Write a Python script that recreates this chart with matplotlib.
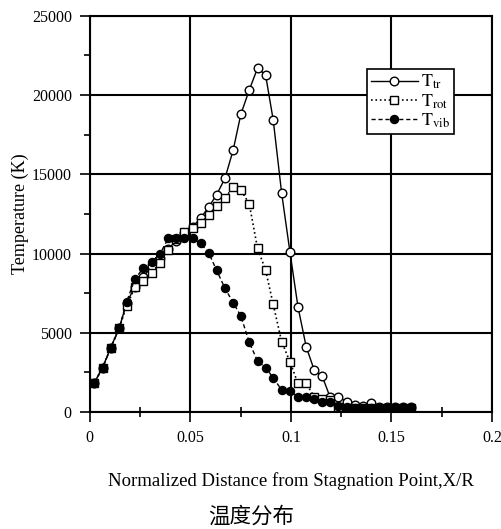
import numpy as np
import matplotlib
matplotlib.use("Agg")
import matplotlib.pyplot as plt
from matplotlib.ticker import MultipleLocator

plt.rcParams['font.family'] = ['Liberation Serif', 'Noto Sans CJK SC']
plt.rcParams['mathtext.fontset'] = 'stix'

# distance normalisee X/R
x = [0.002, 0.0063, 0.0103, 0.0146, 0.0183, 0.0224, 0.0265, 0.0307, 0.0348, 0.0390,
     0.0428, 0.0469, 0.0511, 0.0551, 0.0592, 0.0630, 0.0672, 0.0713, 0.0751, 0.0793,
     0.0834, 0.0874, 0.0912, 0.0954, 0.0995, 0.1035, 0.1076, 0.1116, 0.1155, 0.1194,
     0.1235, 0.1277, 0.1318, 0.1358, 0.1398, 0.1438, 0.1478, 0.1518, 0.1558, 0.1598]

# temperatures (K)
t_tr = [1810, 2800, 4050, 5300, 6900, 7900, 8500, 9200, 9700, 10300,
        10800, 11300, 11700, 12230, 12960, 13700, 14750, 16540, 18790, 20330,
        21700, 21275, 18430, 13810, 10120, 6650, 4120, 2650, 2290, 970,
        970, 650, 450, 400, 550, 350, 300, 300, 300, 300]
t_rot = [1810, 2800, 4050, 5300, 6690, 7870, 8270, 8800, 9390, 10230,
         10900, 11380, 11600, 11950, 12440, 13000, 13490, 14220, 14020, 13130,
         10330, 8960, 6800, 4440, 3180, 1810, 1810, 970, 820, 760,
         340, 250, 250, 250, 250, 250, 250, 250, 250, 250]
t_vib = [1810, 2760, 4020, 5280, 6960, 8400, 9070, 9490, 9970, 10960,
         10960, 10960, 10960, 10650, 10020, 8960, 7810, 6900, 6060, 4400,
         3220, 2800, 2170, 1390, 1330, 970, 930, 800, 650, 650,
         400, 300, 250, 250, 250, 250, 250, 250, 250, 250]

xticks = [0, 0.05, 0.1, 0.15, 0.2]
xticklabels = ['0', '0.05', '0.1', '0.15', '0.2']

fig = plt.figure(figsize=(5.02, 5.29), dpi=100)
ax = fig.add_axes([0.179, 0.221, 0.801, 0.749])

ax.plot(x, t_tr, '-', color='black', lw=1, marker='o', ms=6.2,
        mfc='white', mec='black', mew=1, label=r'$\mathrm{T}_{\mathrm{tr}}$')
ax.plot(x, t_rot, ':', color='black', lw=1.2, marker='s', ms=5.8,
        mfc='white', mec='black', mew=1, label=r'$\mathrm{T}_{\mathrm{rot}}$')
ax.plot(x, t_vib, '--', color='black', lw=1, dashes=(3, 2), marker='o', ms=5.8,
        mfc='black', mec='black', label=r'$\mathrm{T}_{\mathrm{vib}}$')

ax.set_xlim(0, 0.2)
ax.set_ylim(0, 25000)
ax.set_xticks(xticks)
ax.set_xticklabels(xticklabels)
ax.xaxis.set_minor_locator(MultipleLocator(0.025))
ax.yaxis.set_major_locator(MultipleLocator(5000))
ax.yaxis.set_minor_locator(MultipleLocator(2500))
ax.tick_params(axis='both', which='major', direction='out', length=7, width=1.2,
               labelsize=11.5, pad=6)
ax.tick_params(axis='x', which='minor', direction='inout', length=7, width=1.2)
ax.tick_params(axis='y', which='minor', direction='out', length=4, width=1.2)
ax.grid(True, which='major', color='black', lw=1.5)
for s in ax.spines.values():
    s.set_linewidth(1.5)

ax.set_ylabel('Temperature (K)', fontsize=13, labelpad=2)
ax.set_xlabel('Normalized Distance from Stagnation Point,X/R', fontsize=13.5, labelpad=19)
fig.text(0.5, 0.012, '温度分布', ha='center', fontsize=15.5, family='Noto Sans CJK SC')

leg = ax.legend(loc='upper left', bbox_to_anchor=(0.69, 0.865), fontsize=13,
                frameon=True, fancybox=False, edgecolor='black', framealpha=1,
                handlelength=2.6, borderpad=0.2, labelspacing=0.05, handletextpad=0.2,
                borderaxespad=0)
leg.get_frame().set_linewidth(1.2)

fig.savefig('out.png', dpi=100)
